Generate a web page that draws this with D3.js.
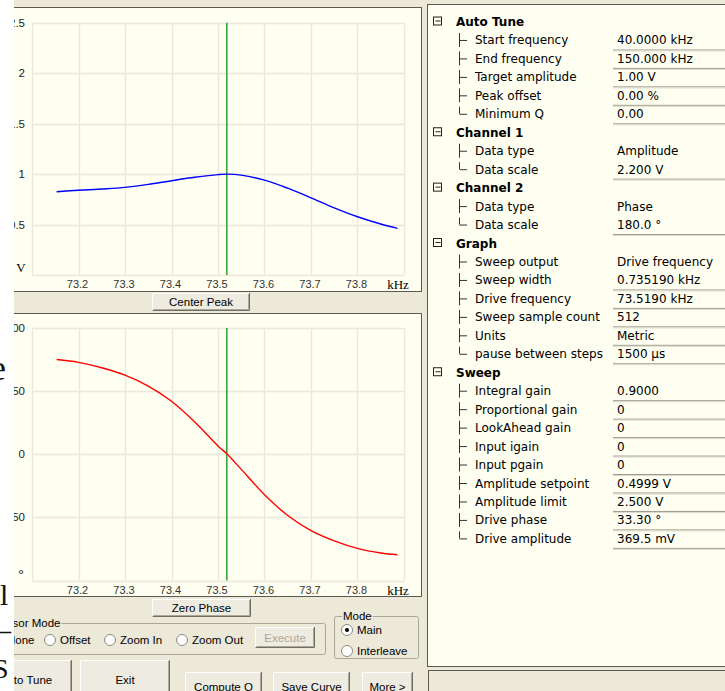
<!DOCTYPE html>
<html>
<head>
  <meta charset="utf-8">
  <title>Sweep view</title>
  <script src="https://cdn.jsdelivr.net/npm/d3@7"></script>
  <style>
    body { margin: 0; background: #ECE9D8; }
    svg { display: block; }
  </style>
</head>
<body>
<svg id="chart" width="725" height="691"></svg>
<script type="text/javascript">
// ---- data ----
var freqAmp   = [73.153, 73.2, 73.25, 73.3, 73.35, 73.4, 73.45, 73.5, 73.52, 73.55, 73.6, 73.65, 73.7, 73.75, 73.8, 73.85, 73.886];
var amplitude = [0.825, 0.84, 0.852, 0.868, 0.898, 0.934, 0.968, 0.995, 1.0, 0.99, 0.94, 0.86, 0.765, 0.665, 0.577, 0.505, 0.462];
var freqPhase = [73.153, 73.2, 73.25, 73.3, 73.35, 73.4, 73.45, 73.5, 73.52, 73.55, 73.6, 73.65, 73.7, 73.75, 73.8, 73.85, 73.886];
var phase     = [75, 72.8, 68.5, 62.7, 54, 42, 25.6, 6.6, 0, -12, -32, -48.5, -60.5, -68.6, -74.6, -78.2, -79.6];
var driveFreq = 73.519;
var xTickLabels = [73.2, 73.3, 73.4, 73.5, 73.6, 73.7, 73.8];
var ampTicks   = [0.5, 1, 1.5, 2, 2.5];
var phaseTicks = [-50, 0, 50, 100];

var treeLabels = ["Auto Tune", "Start frequency", "End frequency", "Target amplitude", "Peak offset", "Minimum Q",
  "Channel 1", "Data type", "Data scale", "Channel 2", "Data type", "Data scale",
  "Graph", "Sweep output", "Sweep width", "Drive frequency", "Sweep sample count", "Units", "pause between steps",
  "Sweep", "Integral gain", "Proportional gain", "LookAhead gain", "Input igain", "Input pgain",
  "Amplitude setpoint", "Amplitude limit", "Drive phase", "Drive amplitude"];
var treeValues = [null, "40.0000 kHz", "150.000 kHz", "1.00 V", "0.00 %", "0.00",
  null, "Amplitude", "2.200 V", null, "Phase", "180.0 \u00b0",
  null, "Drive frequency", "0.735190 kHz", "73.5190 kHz", "512", "Metric", "1500 \u00b5s",
  null, "0.9000", "0", "0", "0", "0", "0.4999 V", "2.500 V", "33.30 \u00b0", "369.5 mV"];
var readOnlyValues = ["Amplitude", "Phase", "Drive frequency"];

// ---- helpers ----
var svg = d3.select("#chart");
var ivory = "#FEFEF1", beige = "#ECE9D8", gridCol = "#EAE8D8";
var uiFont = "Liberation Sans, Arial, sans-serif";

function panel(x, y, w, h, fill) {
  svg.append("rect").attr("x", x + 0.5).attr("y", y + 0.5).attr("width", w).attr("height", h)
    .attr("fill", fill).attr("stroke", "#5a5a52").attr("stroke-width", 1);
}

function button(x, y, w, h, label, disabled) {
  var g = svg.append("g");
  g.append("rect").attr("x", x).attr("y", y).attr("width", w).attr("height", h).attr("fill", "#EEEBE0");
  g.append("path").attr("d", "M" + (x + 0.5) + "," + (y + h) + "V" + (y + 0.5) + "H" + (x + w))
    .attr("stroke", "#fff").attr("fill", "none");
  g.append("path").attr("d", "M" + (x + 0.5) + "," + (y + h - 0.5) + "H" + (x + w - 0.5) + "V" + y)
    .attr("stroke", "#716F64").attr("fill", "none");
  g.append("path").attr("d", "M" + (x + 1.5) + "," + (y + h - 1.5) + "H" + (x + w - 1.5) + "V" + (y + 1))
    .attr("stroke", "#ACA899").attr("fill", "none");
  g.append("text").attr("x", x + w / 2).attr("y", y + h / 2 + 4).attr("text-anchor", "middle")
    .attr("font-family", uiFont).attr("font-size", 11.5).attr("fill", disabled ? "#ACA899" : "#000").text(label);
  return g;
}

function radio(cx, cy, label, checked) {
  svg.append("circle").attr("cx", cx).attr("cy", cy).attr("r", 5.5).attr("fill", "#fff")
    .attr("stroke", "#8e8c80");
  if (checked) svg.append("circle").attr("cx", cx).attr("cy", cy).attr("r", 2).attr("fill", "#000");
  svg.append("text").attr("x", cx + 10).attr("y", cy + 4).attr("font-family", uiFont)
    .attr("font-size", 11.5).text(label);
}

function groupBox(x, y, w, h, label, labelX) {
  svg.append("rect").attr("x", x + 0.5).attr("y", y + 0.5).attr("width", w).attr("height", h)
    .attr("fill", "none").attr("stroke", "#A8A697").attr("rx", 2);
  var t = svg.append("text").attr("x", labelX).attr("y", y + 4).attr("font-family", uiFont)
    .attr("font-size", 11.5).text(label);
  var bb = t.node().getBBox();
  svg.insert("rect", function() { return t.node(); })
    .attr("x", bb.x - 1).attr("y", bb.y).attr("width", bb.width + 2).attr("height", bb.height).attr("fill", beige);
}

var x = d3.scaleLinear().domain([73.1, 73.9]).range([32, 404]);

function plot(top, bottom, domain, ticks, unitLabel, xs, ys, color) {
  var y = d3.scaleLinear().domain(domain).range([bottom, top]);
  var g = svg.append("g");
  // grid
  g.selectAll(".gx").data(x.ticks(8)).enter().append("line")
    .attr("x1", function(d) { return Math.round(x(d)) + 0.5; })
    .attr("x2", function(d) { return Math.round(x(d)) + 0.5; })
    .attr("y1", top).attr("y2", bottom).attr("stroke", gridCol).attr("stroke-width", 1.3);
  g.selectAll(".gy").data([domain[0]].concat(ticks)).enter().append("line")
    .attr("x1", x.range()[0]).attr("x2", x.range()[1])
    .attr("y1", function(d) { return Math.round(y(d)) + 0.5; })
    .attr("y2", function(d) { return Math.round(y(d)) + 0.5; })
    .attr("stroke", gridCol).attr("stroke-width", 1.3);
  // x tick labels
  g.selectAll(".tx").data(xTickLabels).enter().append("text")
    .attr("x", function(d) { return x(d) - 1; }).attr("y", bottom + 13)
    .attr("text-anchor", "middle").attr("font-family", uiFont).attr("font-size", 11)
    .attr("fill", "#333").text(function(d) { return d.toFixed(1); });
  g.append("text").attr("x", 398).attr("y", bottom + 14).attr("text-anchor", "middle")
    .attr("font-family", "Liberation Serif, serif").attr("font-size", 13).text("kHz");
  // y tick labels
  g.selectAll(".ty").data(ticks).enter().append("text")
    .attr("x", 25).attr("y", function(d) { return y(d) + 4; })
    .attr("text-anchor", "end").attr("font-family", uiFont).attr("font-size", 11.5)
    .attr("fill", "#222").text(function(d) { return d; });
  g.append("text").attr("x", 21).attr("y", bottom - 3).attr("text-anchor", "middle")
    .attr("font-family", "Liberation Serif, serif").attr("font-size", 13).text(unitLabel);
  // marker at drive frequency
  g.append("line").attr("x1", x(driveFreq)).attr("x2", x(driveFreq)).attr("y1", top).attr("y2", bottom)
    .attr("stroke", "#219A21").attr("stroke-width", 1.4);
  // curve
  var pts = d3.zip(xs, ys);
  g.append("path").datum(pts)
    .attr("d", d3.line().x(function(d) { return x(d[0]); }).y(function(d) { return y(d[1]); })
      .curve(d3.curveCatmullRom.alpha(0.5)))
    .attr("fill", "none").attr("stroke", color).attr("stroke-width", 1.4);
}

// ---- window chrome ----
svg.append("rect").attr("width", 725).attr("height", 691).attr("fill", beige);

panel(-2, 7, 423, 284, ivory);
plot(22.7, 275, [0, 2.5], ampTicks, "V", freqAmp, amplitude, "#0000FF");
button(152, 293, 98, 18, "Center Peak");

panel(-2, 313, 423, 283, ivory);
plot(328, 580.5, [-100, 100], phaseTicks, "\u00b0", freqPhase, phase, "#FF0000");
button(152, 599, 99, 18, "Zero Phase");

groupBox(-10, 623, 335, 31, "Cursor Mode", -6);
radio(-3, 640, "None", true);
radio(50, 640, "Offset", false);
radio(110, 640, "Zoom In", false);
radio(182, 640, "Zoom Out", false);
button(255, 627, 60, 21, "Execute", true);

groupBox(334, 616, 84, 42, "Mode", 343);
radio(347, 630, "Main", true);
radio(347, 651, "Interleave", false);

button(-20, 660, 92, 40, "Auto Tune");
button(80, 660, 90, 40, "Exit");
button(185, 672, 77, 30, "Compute Q");
button(273, 672, 77, 30, "Save Curve");
button(362, 672, 51, 30, "More >");

// ---- property tree ----
panel(427, 4, 300, 662, ivory);
panel(428, 670, 300, 30, beige);

var rowH = 18.46, base0 = 26;
var tree = svg.append("g").attr("font-family", "DejaVu Sans, Verdana, sans-serif").attr("font-size", 12);
treeLabels.forEach(function(label, i) {
  var by = base0 + i * rowH, cy = by - 4.5;
  var v = treeValues[i];
  if (v === null) {
    tree.append("rect").attr("x", 433.5).attr("y", cy - 4.5).attr("width", 8).attr("height", 8)
      .attr("fill", "none").attr("stroke", "#222");
    tree.append("line").attr("x1", 435.5).attr("x2", 440.5).attr("y1", cy - 0.5).attr("y2", cy - 0.5)
      .attr("stroke", "#222");
    tree.append("text").attr("x", 456).attr("y", by).attr("font-weight", "bold").text(label);
    return;
  }
  var last = i === treeLabels.length - 1 || treeValues[i + 1] === null;
  tree.append("line").attr("x1", 459.5).attr("x2", 459.5).attr("y1", cy - 7).attr("y2", last ? cy : cy + 7)
    .attr("stroke", "#333");
  tree.append("line").attr("x1", 459.5).attr("x2", 467).attr("y1", cy + 0.5).attr("y2", cy + 0.5)
    .attr("stroke", "#333");
  tree.append("text").attr("x", 475).attr("y", by).text(label);
  if (readOnlyValues.indexOf(v) < 0) {
    tree.append("line").attr("x1", 613).attr("x2", 725).attr("y1", by + 5.5).attr("y2", by + 5.5)
      .attr("stroke", "#9a988a");
    tree.append("line").attr("x1", 613).attr("x2", 725).attr("y1", by + 6.5).attr("y2", by + 6.5)
      .attr("stroke", "#dcdacb");
  }
  tree.append("text").attr("x", 617).attr("y", by).text(v);
});

// ---- document strip on the left ----
svg.append("rect").attr("x", 0).attr("y", 0).attr("width", 14).attr("height", 691).attr("fill", "#fff");
var doc = svg.append("g").attr("font-family", "Liberation Serif, serif").attr("fill", "#111");
doc.append("text").attr("x", -10).attr("y", 380).attr("font-size", 36).text("e");
doc.append("text").attr("x", 0).attr("y", 605).attr("font-size", 30).text("l");
doc.append("text").attr("x", -4).attr("y", 640).attr("font-size", 30).text("\u2013");
doc.append("text").attr("x", -7).attr("y", 678).attr("font-size", 28).text("S");
</script>
</body>
</html>
